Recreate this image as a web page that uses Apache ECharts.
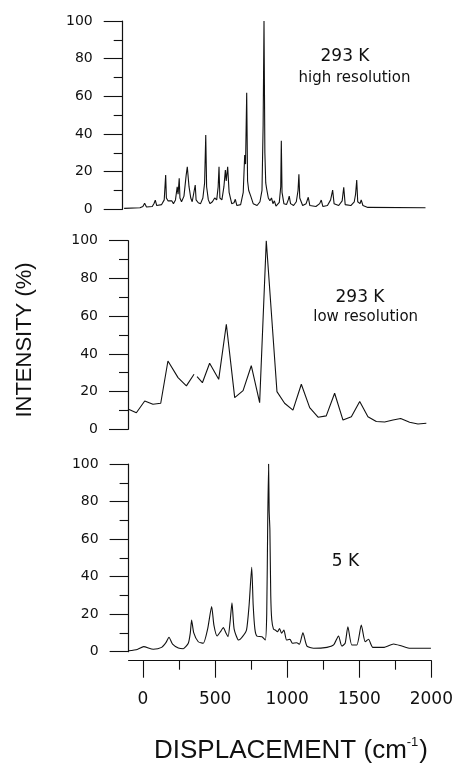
<!DOCTYPE html>
<html>
<head>
<meta charset="utf-8">
<script src="https://cdn.jsdelivr.net/npm/echarts@6/dist/echarts.min.js"></script>
<style>
html,body{margin:0;padding:0;background:#fff;}
#chart{width:456px;height:764px;}
</style>
</head>
<body>
<div id="chart"></div>
<script>
// ---- data (displacement cm^-1, intensity %) ----
const highRes293 = [
[-90,0.5],[20,0.8],[40,1.5],[52,3.2],[65,1.2],[105,1.5],[118,3.2],[126,4.9],[136,2],[170,2.5],[188,5],[198,18.2],[203,6],[214,4.5],[226,3.5],[240,4.5],[252,3],[266,5],[278,12],[284,8],[292,16.5],[297,6],[308,4],[325,7],[340,18],[348,22.6],[360,12],[372,6],[382,4],[395,5],[403,12.9],[409,5],[416,6],[424,3.5],[440,3],[456,6],[468,14],[476,39.5],[482,12],[494,5],[506,3],[522,4],[538,6],[552,5],[562,12],[568,22.6],[574,6],[588,5],[602,12],[612,20.8],[618,15],[628,22.6],[638,9],[656,3],[672,3.5],[681,5.3],[692,2],[718,2.5],[736,9],[746,28.8],[752,24],[760,61.9],[766,15],[774,10],[788,7],[805,3],[832,2],[852,4],[866,10],[874,45],[880,100],[886,30],[892,14],[898,11],[910,6],[921,4.5],[932,6],[942,3],[952,4.5],[963,1.7],[986,3.7],[996,12],[1000,36.4],[1005,9],[1018,3],[1036,2.5],[1048,5],[1055,7],[1064,3],[1085,2],[1104,4],[1116,10],[1122,18.6],[1128,6],[1148,2],[1172,3],[1187,6.4],[1198,2],[1240,1.5],[1266,3],[1277,4.9],[1288,1.5],[1320,2],[1342,5],[1356,10.2],[1366,3],[1398,2],[1422,4.5],[1433,11.7],[1443,2.5],[1482,2],[1506,4],[1515,8],[1523,15.6],[1530,4],[1538,5],[1546,3],[1554,5],[1566,2],[1600,1],[2000,0.8]
];
const lowRes293 = [
[-100,10.8],[-42,8.8],[16,15],[73,13.3],[127,13.8],[177,36.2],[247,27.4],[305,23],[358,29.2],[368,'-'],[379,27.9],[416,24.7],[466,35],[529,26.5],[582,55.7],[640,16.8],[698,20.5],[755,33.7],[813,14.1],[859,100],[933,20],[986,13.8],[1044,10.2],[1102,23.9],[1160,11.5],[1218,6.4],[1275,7.1],[1333,19.1],[1391,4.9],[1449,6.7],[1507,14.7],[1564,6.7],[1622,4.1],[1680,3.9],[1738,4.9],[1791,5.7],[1853,3.7],[1911,2.8],[1969,3.2]
];
const spectrum5K = [
[-100,0.5],[-40,1.2],[4,2.7],[71,1.3],[129,2.3],[160,5],[180,7.7],[205,4],[245,2],[279,1.6],[314,4.5],[328,10],[337,16.9],[352,10],[383,5.3],[418,4.5],[448,12],[476,24],[492,14],[514,8.4],[540,11],[557,12.8],[575,10],[590,8],[604,16],[617,26.1],[632,12],[663,6.2],[690,8],[718,11.6],[736,25],[754,45],[764,25],[776,12],[790,8.3],[825,8],[848,6.2],[858,20],[865,70],[871,100],[875,75],[880,65],[886,30],[893,17],[905,12],[917,11.6],[932,10.6],[947,12.4],[961,9.8],[977,11.6],[996,6.2],[1019,6.6],[1036,4.5],[1066,4.8],[1085,4],[1109,10.1],[1137,3],[1183,1.8],[1276,2.3],[1322,3.6],[1356,8.4],[1379,3],[1402,4.5],[1421,13.3],[1448,3.6],[1483,3.6],[1514,14.2],[1541,5.3],[1564,6.6],[1594,2.3],[1668,2.3],[1738,4.1],[1795,3],[1853,1.8],[1997,1.8]
];
const xMajorTicks = [0, 500, 1000, 1500, 2000];
const xMinorTicks = [250, 750, 1250, 1750];
const yRange = [0, 100];
const panelLabels = [["293 K", "high resolution"], ["293 K", "low resolution"], ["5 K"]];
const yTitle = "INTENSITY (%)";
const xTitle = "DISPLACEMENT (cm";

// ---- chart ----
const FONT = "'DejaVu Sans', sans-serif";
const TITLE_FONT = "'Liberation Sans', Arial, sans-serif";
const INK = '#111';

const grids = [
  {left: 122.7, top: 21, width: 302.8, height: 188.3},
  {left: 128, top: 240.7, width: 302.8, height: 188.6},
  {left: 128.6, top: 464, width: 302.8, height: 187.7}
];

function yAxisFor(i) {
  return {
    type: 'value', gridIndex: i, min: yRange[0], max: yRange[1], interval: 20,
    axisLine: {show: true, onZero: false, lineStyle: {color: INK, width: 1.2}},
    axisTick: {show: true, inside: false, length: 19, lineStyle: {color: INK, width: 1.1}},
    minorTick: {show: true, splitNumber: 2, length: 9, lineStyle: {color: INK, width: 1.1}},
    splitLine: {show: false},
    minorSplitLine: {show: false},
    axisLabel: {show: true, margin: 30, fontSize: 14, color: INK, fontFamily: FONT}
  };
}
function hiddenX(i) {
  return {type: 'value', gridIndex: i, min: -100, max: 2000, show: false, splitLine: {show: false}};
}

const option = {
  animation: false,
  backgroundColor: '#fff',
  grid: grids,
  xAxis: [
    hiddenX(0), hiddenX(1),
    {
      type: 'value', gridIndex: 2, min: -100, max: 2000, position: 'bottom', offset: 9,
      axisLine: {show: true, onZero: false, lineStyle: {color: INK, width: 1.2}},
      axisTick: {show: true, inside: false, length: 17, customValues: xMajorTicks, lineStyle: {color: INK, width: 1.1}},
      axisLabel: {show: true, margin: 30, fontSize: 17, color: INK, fontFamily: FONT, customValues: xMajorTicks,
        formatter: function (v) { return String(v); }},
      splitLine: {show: false}
    },
    {
      type: 'value', gridIndex: 2, min: -100, max: 2000, position: 'bottom', offset: 9,
      axisLine: {show: false, onZero: false},
      axisTick: {show: true, inside: false, length: 9, customValues: xMinorTicks, lineStyle: {color: INK, width: 1.1}},
      axisLabel: {show: false},
      splitLine: {show: false}
    }
  ],
  yAxis: [yAxisFor(0), yAxisFor(1), yAxisFor(2)],
  series: [
    {type: 'line', xAxisIndex: 0, yAxisIndex: 0, data: highRes293, symbol: 'none', lineStyle: {color: INK, width: 1.1}},
    {type: 'line', xAxisIndex: 1, yAxisIndex: 1, data: lowRes293, symbol: 'none', connectNulls: false, lineStyle: {color: INK, width: 1.1}},
    {type: 'line', xAxisIndex: 2, yAxisIndex: 2, data: spectrum5K, symbol: 'none', smooth: 0.2, lineStyle: {color: INK, width: 1.1}}
  ],
  graphic: [
    {type: 'text', x: 345, y: 57, style: {text: panelLabels[0][0], font: "17px " + FONT, fill: INK, align: 'center', verticalAlign: 'middle'}},
    {type: 'text', x: 354.5, y: 78, style: {text: panelLabels[0][1], font: "15px " + FONT, fill: INK, align: 'center', verticalAlign: 'middle'}},
    {type: 'text', x: 360, y: 298, style: {text: panelLabels[1][0], font: "17px " + FONT, fill: INK, align: 'center', verticalAlign: 'middle'}},
    {type: 'text', x: 365.7, y: 317, style: {text: panelLabels[1][1], font: "15px " + FONT, fill: INK, align: 'center', verticalAlign: 'middle'}},
    {type: 'text', x: 345.5, y: 562, style: {text: panelLabels[2][0], font: "17px " + FONT, fill: INK, align: 'center', verticalAlign: 'middle'}},
    {type: 'text', x: 25, y: 340, rotation: Math.PI / 2,
      style: {text: yTitle, font: "22px " + TITLE_FONT, fill: INK, align: 'center', verticalAlign: 'middle'}},
    {type: 'text', x: 291, y: 749,
      style: {
        text: '{m|' + xTitle + '}{s|-1}{m|)}',
        align: 'center', verticalAlign: 'middle',
        rich: {
          m: {fontSize: 26, fontFamily: TITLE_FONT, fill: INK, color: INK, lineHeight: 30, verticalAlign: 'bottom'},
          s: {fontSize: 13, fontFamily: TITLE_FONT, fill: INK, color: INK, lineHeight: 30, verticalAlign: 'top', padding: [2, 1, 0, 0]}
        }
      }}
  ]
};

const chart = echarts.init(document.getElementById('chart'), null, {renderer: 'canvas'});
chart.setOption(option);
</script>
</body>
</html>
